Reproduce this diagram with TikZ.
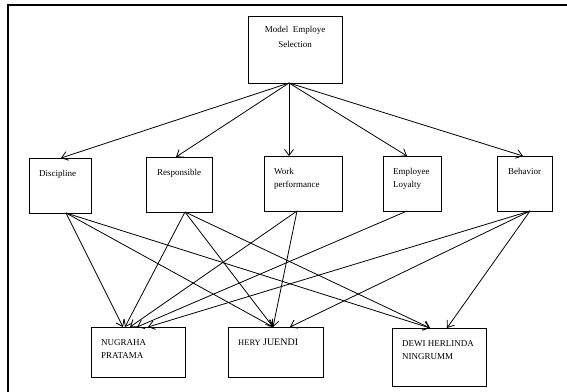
\documentclass[tikz,border=0pt]{standalone}
\usepackage{fontspec}
\setmainfont{Liberation Serif}
\usetikzlibrary{arrows.meta}
\begin{document}
\begin{tikzpicture}[x=1pt,y=-1pt,
 box/.style={draw, line width=0.9pt, inner sep=0pt, outer sep=0pt, anchor=north west},
 lbl/.style={anchor=north west, inner sep=0pt, font=\fontsize{9}{13.5}\selectfont, align=left},
 arr/.style={line width=0.8pt, -{Straight Barb[length=6pt,width=9pt]}}]
\useasboundingbox (0,0) rectangle (567,391);
\draw[line width=2pt] (8,392) -- (8,5) -- (568,5);
% boxes
\node[box, minimum width=94pt, minimum height=67pt] (top) at (248,16) {};
\node[box, minimum width=62pt, minimum height=55pt] (disc) at (29,158) {};
\node[box, minimum width=66pt, minimum height=55pt] (resp) at (146,157) {};
\node[box, minimum width=78pt, minimum height=55pt] (work) at (264,156) {};
\node[box, minimum width=58pt, minimum height=55pt] (loy) at (383,156) {};
\node[box, minimum width=55pt, minimum height=55pt] (beh) at (497,156) {};
\node[box, minimum width=94pt, minimum height=50pt] (nug) at (91,327) {};
\node[box, minimum width=95pt, minimum height=50pt] (hery) at (228,327) {};
\node[box, minimum width=94pt, minimum height=58pt] (dewi) at (392,328) {};
% texts
\node[anchor=north, inner sep=0pt, align=center, font=\fontsize{9}{15}\selectfont] (toptxt) at ([yshift=-10pt]top.north) {Model\ \ Employe\\Selection};
\node[lbl] (disctxt) at ([xshift=10pt,yshift=-12pt]disc.north west) {Discipline};
\node[lbl] (resptxt) at ([xshift=11pt,yshift=-12pt]resp.north west) {Responsible};
\node[lbl] (worktxt) at ([xshift=10pt,yshift=-12pt]work.north west) {Work\\performance};
\node[lbl] (loytxt) at ([xshift=10pt,yshift=-12pt]loy.north west) {Employee\\Loyalty};
\node[lbl] (behtxt) at ([xshift=11pt,yshift=-12pt]beh.north west) {Behavior};
\node[lbl] (nugtxt) at ([xshift=10pt,yshift=-12pt]nug.north west) {NUGRAHA\\PRATAMA};
\node[lbl] (herytxt) at ([xshift=10pt,yshift=-12pt]hery.north west) {{\fontsize{8.5}{13.5}\selectfont HERY} {\fontsize{10}{13.5}\selectfont JUENDI}};
\node[lbl] (dewitxt) at ([xshift=10pt,yshift=-12pt]dewi.north west) {DEWI HERLINDA\\NINGRUMM};
% top arrows
\draw[arr] ([xshift=-6pt]top.south) -- ([xshift=1pt]disc.north);
\draw[arr] ([xshift=-6pt]top.south) -- ([xshift=-3pt]resp.north);
\draw[arr] ([xshift=-6pt]top.south) -- ([xshift=-14pt]work.north);
\draw[arr] ([xshift=-6pt]top.south) -- ([xshift=-5pt]loy.north);
\draw[arr] ([xshift=-6pt]top.south) -- ([xshift=-1.5pt]beh.north);
% to NUGRAHA
\draw[arr] ([xshift=6pt]disc.south) -- ([xshift=-15pt]nug.north);
\draw[arr] ([xshift=6pt]resp.south) -- ([xshift=-13pt]nug.north);
\draw[arr] ([xshift=-6pt]work.south) -- ([xshift=-8pt]nug.north);
\draw[arr] ([xshift=-5pt]loy.south) -- ([xshift=-1pt]nug.north);
\draw[arr] ([xshift=5.5pt]beh.south) -- ([xshift=10pt]nug.north);
% to HERY
\draw[arr] ([xshift=6pt]disc.south) -- ([xshift=-2.5pt]hery.north);
\draw[arr] ([xshift=6pt]resp.south) -- ([xshift=-2.5pt]hery.north);
\draw[arr] ([xshift=-6pt]work.south) -- ([xshift=-2.5pt]hery.north);
\draw[arr] ([xshift=5.5pt]beh.south) -- ([xshift=14.5pt]hery.north);
% to DEWI
\draw[arr] ([xshift=6pt]disc.south) -- ([xshift=-9pt]dewi.north);
\draw[arr] ([xshift=6pt]resp.south) -- ([xshift=-9pt]dewi.north);
\draw[arr] ([xshift=5.5pt]beh.south) -- ([xshift=8pt]dewi.north);
\end{tikzpicture}
\end{document}
